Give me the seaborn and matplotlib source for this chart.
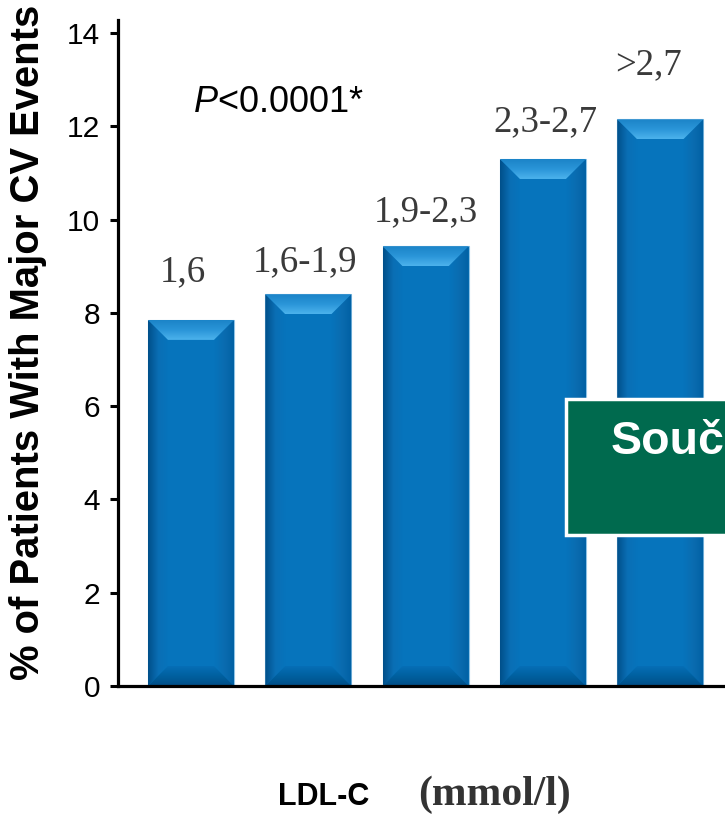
import numpy as np
import pandas as pd
import matplotlib
matplotlib.use("Agg")
import matplotlib.pyplot as plt
import seaborn as sns
from matplotlib.patches import Polygon, Rectangle
from matplotlib.colors import LinearSegmentedColormap

# LDL-C groups (mmol/l) and share of patients with major CV events (%)
categories = ["1,6", "1,6-1,9", "1,9-2,3", "2,3-2,7", ">2,7"]
event_pct = [7.85, 8.4, 9.43, 11.3, 12.15]
y_ticks = [0, 2, 4, 6, 8, 10, 12, 14]

y_label = "% of Patients With Major CV Events"
x_label_main = "LDL-C"
x_label_unit = "(mmol/l)"
p_value_text = r"$\mathit{P}$<0.0001*"
box_text = "Souč"

# label nudges above each bar (pixels: dx, dy)
label_nudge = [(-8, 48), (-3, 32), (0, 34), (2, 37), (-12, 54)]

W, H, DPI = 725, 814, 100
PT = 72 / DPI

sns.set_theme(style="white")
plt.rcParams["font.family"] = ["Liberation Sans", "DejaVu Sans"]
plt.rcParams["mathtext.fontset"] = "custom"
plt.rcParams["mathtext.it"] = "Liberation Sans:italic"
plt.rcParams["mathtext.rm"] = "Liberation Sans"

fig = plt.figure(figsize=(W / DPI, H / DPI), dpi=DPI)
ax = fig.add_axes([118 / W, 128 / H, 1 - 118 / W, 666 / H])

df = pd.DataFrame({"group": categories, "pct": event_pct})
BODY = "#0674BC"
sns.barplot(data=df, x="group", y="pct", color=BODY, saturation=1,
            width=0.733, ax=ax, edgecolor="#8fc3e6", linewidth=0.8, zorder=2)

XLIM = (-0.622, 4.552)
YLIM = (0, 14.28)


def grad_fill(poly_xy, stops, vertical=True):
    poly_xy = np.asarray(poly_xy)
    clip = Polygon(poly_xy, closed=True, transform=ax.transData,
                   facecolor="none", edgecolor="none")
    ax.add_artist(clip)
    cmap = LinearSegmentedColormap.from_list("g", stops)
    g = np.linspace(0, 1, 64)
    img = g[:, None] if vertical else g[None, :]
    xs, ys = poly_xy[:, 0], poly_xy[:, 1]
    im = ax.imshow(img, cmap=cmap, extent=[xs.min(), xs.max(), ys.min(), ys.max()],
                   origin="lower", aspect="auto", interpolation="bilinear", zorder=3)
    im.set_clip_path(clip)


# bevelled look on every bar, built from the bar geometry
bars = list(ax.patches)
dx = 20 / 117.3
dy = 20 / 46.64
for b in bars:
    x0, w, top = b.get_x(), b.get_width(), b.get_height()
    x1 = x0 + w
    # left and right faces
    grad_fill([(x0, 0), (x0 + dx, dy), (x0 + dx, top - dy), (x0, top)],
              ["#004f8a", "#0a6fb5", BODY], vertical=False)
    grad_fill([(x1, 0), (x1 - dx, dy), (x1 - dx, top - dy), (x1, top)],
              [BODY, "#0a6cb0", "#0060a3"], vertical=False)
    # top face
    grad_fill([(x0, top), (x1, top), (x1 - dx, top - dy), (x0 + dx, top - dy)],
              ["#4cb2ec", "#2a95d8", "#1b84c8"], vertical=True)
    # bottom face
    grad_fill([(x0, 0), (x1, 0), (x1 - dx, dy), (x0 + dx, dy)],
              ["#004d86", "#00609f", "#066eb6"], vertical=True)

ax.set_xlim(*XLIM)
ax.set_ylim(*YLIM)

# axes styling
for s in ["top", "right"]:
    ax.spines[s].set_visible(False)
for s in ["left", "bottom"]:
    ax.spines[s].set_linewidth(2.3)
    ax.spines[s].set_color("black")
    ax.spines[s].set_zorder(5)
ax.set_yticks(y_ticks)
ax.set_yticklabels([str(t) for t in y_ticks])
ax.tick_params(axis="y", direction="out", length=6, width=2.2, pad=7,
               labelsize=21.5, colors="black", left=True)
ax.tick_params(axis="x", bottom=False, labelbottom=False)
ax.set_xlabel("")
ax.set_ylabel(y_label, fontsize=28.8, fontweight="bold", color="black",
              ha="center", va="center", rotation_mode="anchor")
ax.yaxis.set_label_coords((28 - 118) / (W - 118), (686 - 342) / 666)

# group labels above the bars
for b, lab, (nx, ny) in zip(bars, categories, label_nudge):
    cx = b.get_x() + b.get_width() / 2
    ax.annotate(lab, xy=(cx, b.get_height()), xytext=(nx * PT, ny * PT),
                textcoords="offset points", ha="center", va="center",
                fontsize=26.5, family="Liberation Serif", color="#3a3a3a")

# p-value
ax.text(193 / W, 1 - 103 / H, p_value_text, transform=fig.transFigure,
        ha="left", va="center", fontsize=26, color="black")

# x-axis caption in two type styles
fig.text(278 / W, 1 - 805 / H, x_label_main, ha="left", va="baseline",
         fontsize=22, fontweight="bold", color="black")
fig.text(418 / W, 1 - 805 / H, x_label_unit, ha="left", va="baseline",
         fontsize=30, fontweight="bold", family="Liberation Serif", color="#333333")

# green callout box at the right edge
box = Rectangle((566 / W, 1 - 535 / H), 0.4, 136 / H, transform=fig.transFigure,
                facecolor="#006A4E", edgecolor="white", linewidth=2.5, zorder=10)
fig.add_artist(box)
fig.text(611 / W, 1 - 442 / H, box_text, ha="left", va="center", fontsize=33.5,
         fontweight="bold", color="white", zorder=11)

fig.savefig("out.png", dpi=DPI)
